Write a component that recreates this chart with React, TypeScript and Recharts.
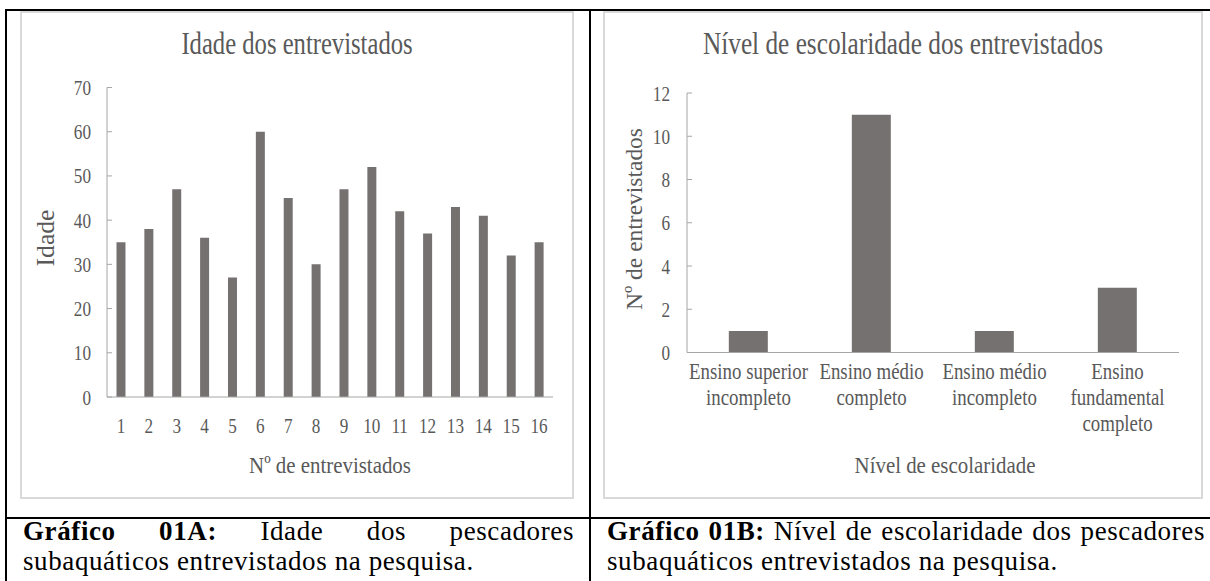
import React from 'react'
import { BarChart, Bar, XAxis, YAxis } from 'recharts'

// Gráfico 01A – idade de cada entrevistado
const respondents = ['1', '2', '3', '4', '5', '6', '7', '8', '9', '10', '11', '12', '13', '14', '15', '16']
const ages = [35, 38, 47, 36, 27, 60, 45, 30, 47, 52, 42, 37, 43, 41, 32, 35]
const ageTicks = [0, 10, 20, 30, 40, 50, 60, 70]

// Gráfico 01B – nível de escolaridade
const schoolLevels = [
  'Ensino superior incompleto',
  'Ensino médio completo',
  'Ensino médio incompleto',
  'Ensino fundamental completo',
]
const schoolLevelLines = [
  ['Ensino superior', 'incompleto'],
  ['Ensino médio', 'completo'],
  ['Ensino médio', 'incompleto'],
  ['Ensino', 'fundamental', 'completo'],
]
const schoolCounts = [1, 11, 1, 3]
const countTicks = [0, 2, 4, 6, 8, 10, 12]

const FONT = "'Liberation Serif', 'Times New Roman', Times, serif"
const TEXT = '#595959'
const AXIS = '#A6A6A6'
const BAR = '#767171'
const SQUEEZE = 0.78

const ageData = respondents.map((name, i) => ({ name, value: ages[i] }))
const schoolData = schoolLevels.map((name, i) => ({ name, value: schoolCounts[i] }))

function YTick(props: any) {
  const { x, y, payload } = props
  return (
    <text transform={`translate(${x},${y}) scale(${SQUEEZE},1)`} textAnchor="end" dy={7.5} fill={TEXT} fontSize={22} fontFamily={FONT}>
      {payload.value}
    </text>
  )
}

function AgeTick(props: any) {
  const { x, y, payload } = props
  return (
    <text transform={`translate(${x},${y}) scale(${SQUEEZE},1)`} textAnchor="middle" dy={36} fill={TEXT} fontSize={22} fontFamily={FONT}>
      {payload.value}
    </text>
  )
}

function LevelTick(props: any) {
  const { x, y, index } = props
  const lines = schoolLevelLines[index] || []
  return (
    <text transform={`translate(${x},${y}) scale(0.82,1)`} textAnchor="middle" fill={TEXT} fontSize={23} fontFamily={FONT}>
      {lines.map((l, i) => (
        <tspan key={i} x={0} y={26.5 + i * 26}>
          {l}
        </tspan>
      ))}
    </text>
  )
}

function Squeezed({ x, y, text, size, sx = SQUEEZE }: { x: number; y: number; text: string; size: number; sx?: number }) {
  return (
    <text transform={`translate(${x},${y}) scale(${sx},1)`} textAnchor="middle" fill={TEXT} fontSize={size} fontFamily={FONT}>
      {text}
    </text>
  )
}

function Rotated({ x, y, text, size, length }: { x: number; y: number; text: string; size: number; length: number }) {
  return (
    <text
      transform={`translate(${x},${y}) rotate(-90)`}
      textAnchor="middle"
      dy={8}
      fill={TEXT}
      fontSize={size}
      fontFamily={FONT}
      textLength={length}
      lengthAdjust="spacingAndGlyphs"
    >
      {text}
    </text>
  )
}

const line = (s: React.CSSProperties): React.CSSProperties => ({ position: 'absolute', background: '#000', ...s })

function Panel({ left, width, children, title, titleX, titleSx }: any) {
  return (
    <div style={{ position: 'absolute', left, top: 12, width, height: 486 }}>
      {children}
      <svg width={width} height={486} style={{ position: 'absolute', left: 0, top: 0, pointerEvents: 'none' }}>
        <Squeezed x={titleX} y={42} text={title} size={32} sx={titleSx} />
      </svg>
      <div style={{ position: 'absolute', left: -1, top: -1, width: width + 2, height: 488, border: '2px solid #D9D9D9', boxSizing: 'border-box' }} />
    </div>
  )
}

const caption: React.CSSProperties = {
  position: 'absolute',
  fontFamily: FONT,
  fontSize: 27,
  lineHeight: '30px',
  letterSpacing: 0.6,
  color: '#000',
  textAlign: 'justify',
  textAlignLast: 'justify',
}

export default function App() {
  return (
    <div style={{ position: 'absolute', left: 0, top: 0, width: 1210, height: 581, background: '#fff', overflow: 'hidden' }}>
      <Panel left={21} width={552} title="Idade dos entrevistados" titleX={276} titleSx={0.77}>
        <BarChart width={552} height={486} data={ageData} margin={{ top: 75.5, right: 20, bottom: 0, left: 0 }} barCategoryGap="34%">
          <XAxis
            dataKey="name"
            interval={0}
            height={101}
            tickSize={0}
            tickMargin={0}
            tickLine={false}
            axisLine={{ stroke: AXIS }}
            tick={<AgeTick />}
            label={() => <Squeezed x={309} y={461} text="Nº de entrevistados" size={24} sx={0.87} />}
          />
          <YAxis
            type="number"
            domain={[0, 70]}
            ticks={ageTicks}
            interval={0}
            width={86}
            tickSize={-5}
            tickMargin={21}
            tickLine={{ stroke: AXIS }}
            axisLine={{ stroke: AXIS }}
            tick={<YTick />}
            label={() => <Rotated x={25} y={226} text="Idade" size={25} length={57} />}
          />
          <Bar dataKey="value" fill={BAR} isAnimationActive={false} />
        </BarChart>
      </Panel>

      <Panel left={604} width={598} title="Nível de escolaridade dos entrevistados" titleX={299} titleSx={0.79}>
        <BarChart width={598} height={486} data={schoolData} margin={{ top: 81, right: 23, bottom: 0, left: 0 }} barCategoryGap="34%">
          <XAxis
            dataKey="name"
            interval={0}
            height={145.5}
            tickSize={0}
            tickMargin={0}
            tickLine={false}
            axisLine={{ stroke: AXIS }}
            tick={<LevelTick />}
            label={() => <Squeezed x={341} y={461} text="Nível de escolaridade" size={24} sx={0.87} />}
          />
          <YAxis
            type="number"
            domain={[0, 12]}
            ticks={countTicks}
            interval={0}
            width={83}
            tickSize={-5}
            tickMargin={22}
            tickLine={{ stroke: AXIS }}
            axisLine={{ stroke: AXIS }}
            tick={<YTick />}
            label={() => <Rotated x={29.5} y={207} text="Nº de entrevistados" size={24} length={182} />}
          />
          <Bar dataKey="value" fill={BAR} isAnimationActive={false} />
        </BarChart>
      </Panel>

      {/* bordas da tabela */}
      <div style={line({ left: 5, top: 9, width: 1205, height: 2 })} />
      <div style={line({ left: 5, top: 517, width: 1205, height: 2 })} />
      <div style={line({ left: 5, top: 9, width: 2, height: 572 })} />
      <div style={line({ left: 589, top: 9, width: 2, height: 572 })} />

      <div style={{ ...caption, left: 23, top: 516, width: 551 }}>
        <b>Gráfico 01A:</b> Idade dos pescadores
      </div>
      <div style={{ ...caption, left: 23, top: 546, width: 551, textAlignLast: 'left' }}>subaquáticos entrevistados na pesquisa.</div>

      <div style={{ ...caption, left: 607, top: 516, width: 598 }}>
        <b>Gráfico 01B:</b> Nível de escolaridade dos pescadores
      </div>
      <div style={{ ...caption, left: 607, top: 546, width: 598, textAlignLast: 'left' }}>subaquáticos entrevistados na pesquisa.</div>
    </div>
  )
}
